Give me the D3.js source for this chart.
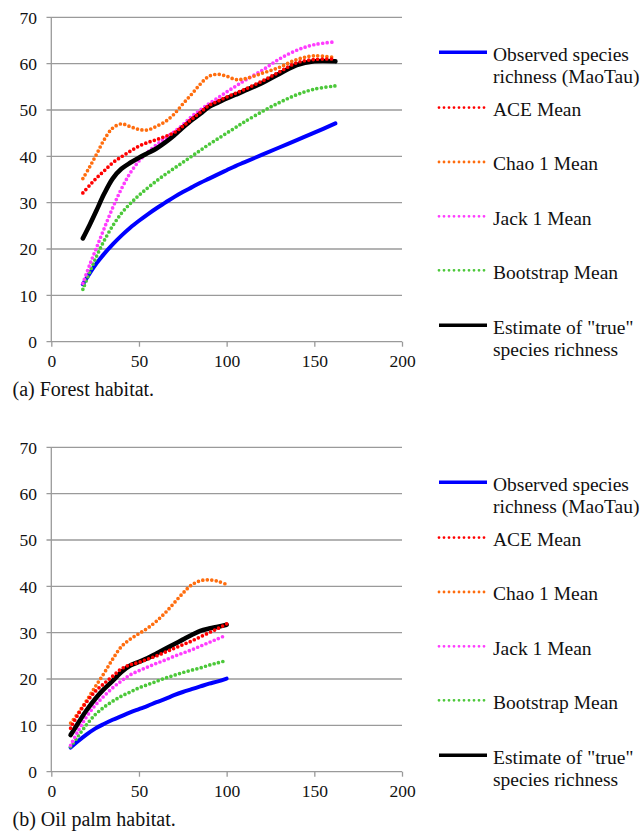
<!DOCTYPE html>
<html>
<head>
<meta charset="utf-8">
<script src="https://cdn.jsdelivr.net/npm/d3@7"></script>
<style>
  body { margin: 0; background: #fff; }
  svg text { font-family: "Liberation Serif", "DejaVu Serif", serif; fill: #111; }
</style>
</head>
<body>
<script>
// species accumulation curves
var forestX = [18, 22, 26, 30, 35, 40, 45, 50, 55, 60, 65, 70, 75, 80, 85, 90, 95, 100, 105, 110, 120, 130, 140, 150, 162];
var forestObserved  = [12.4, 14.8, 17.0, 18.9, 21.0, 22.9, 24.6, 26.1, 27.5, 28.8, 30.0, 31.2, 32.3, 33.3, 34.3, 35.2, 36.1, 37.0, 37.9, 38.7, 40.3, 41.9, 43.5, 45.1, 47.1];
var forestACE       = [32.1, 33.8, 35.4, 36.8, 38.6, 39.9, 41.1, 42.2, 43.0, 43.6, 44.3, 45.1, 46.5, 48.0, 49.5, 51.0, 51.9, 52.8, 53.6, 54.4, 56.2, 58.2, 60.2, 60.9, 61.0];
var forestChao      = [35.2, 37.8, 40.6, 43.5, 46.1, 47.0, 46.4, 45.8, 45.7, 46.5, 47.5, 49.1, 51.3, 53.4, 55.6, 57.3, 57.7, 57.3, 56.6, 56.7, 57.9, 59.2, 60.9, 61.7, 61.3];
var forestJack      = [12.6, 16.7, 20.5, 24.3, 28.9, 33.0, 36.4, 39.0, 40.9, 42.5, 43.9, 45.3, 46.8, 48.6, 50.0, 51.4, 52.6, 53.9, 55.1, 56.3, 58.5, 61.0, 62.9, 64.1, 64.7];
var forestBootstrap = [11.3, 15.1, 18.6, 21.7, 25.0, 27.7, 29.8, 31.6, 33.2, 34.7, 36.1, 37.4, 38.7, 40.0, 41.3, 42.6, 43.8, 45.0, 46.2, 47.4, 49.6, 51.6, 53.3, 54.5, 55.2];
var forestEstimate  = [22.3, 25.3, 28.5, 31.8, 35.2, 37.3, 38.6, 39.7, 40.7, 41.7, 43.0, 44.5, 46.2, 47.8, 49.2, 50.7, 51.6, 52.5, 53.3, 54.1, 55.8, 57.8, 59.7, 60.5, 60.5];

var palmX = [11, 15, 20, 25, 30, 35, 40, 45, 50, 55, 60, 65, 70, 75, 80, 85, 90, 95, 100];
var palmObserved  = [5.2, 6.5, 8.0, 9.3, 10.3, 11.2, 12.0, 12.8, 13.5, 14.2, 15.0, 15.7, 16.5, 17.2, 17.8, 18.4, 19.0, 19.5, 20.1];
var palmACE       = [9.4, 12.2, 15.0, 17.3, 19.0, 20.6, 22.2, 23.1, 23.6, 24.3, 25.0, 25.8, 26.6, 27.4, 28.2, 29.1, 30.0, 30.9, 31.9];
var palmChao      = [10.5, 12.5, 15.3, 18.3, 21.2, 24.3, 27.0, 28.6, 29.8, 31.0, 32.5, 34.3, 36.4, 38.5, 40.3, 41.2, 41.4, 41.1, 40.4];
var palmJack      = [5.7, 8.6, 11.8, 14.3, 16.3, 18.1, 19.6, 20.9, 21.8, 22.6, 23.4, 24.1, 24.9, 25.6, 26.3, 27.1, 27.9, 28.7, 29.5];
var palmBootstrap = [5.4, 7.5, 10.1, 12.3, 13.9, 15.2, 16.3, 17.2, 18.1, 18.8, 19.5, 20.2, 20.8, 21.4, 21.9, 22.4, 23.0, 23.5, 24.0];
var palmEstimate  = [7.9, 10.3, 13.2, 15.7, 17.8, 19.6, 21.5, 22.9, 23.7, 24.5, 25.5, 26.5, 27.5, 28.5, 29.5, 30.4, 30.9, 31.3, 31.7];

var xTicks = [0, 50, 100, 150, 200];
var yTicks = [0, 10, 20, 30, 40, 50, 60, 70];
var seriesNames = ['Observed species|richness (MaoTau)', 'ACE Mean', 'Chao 1 Mean', 'Jack 1 Mean', 'Bootstrap Mean', 'Estimate of "true"|species richness'];
var captions = ['(a) Forest habitat.', '(b) Oil palm habitat.'];

var styles = [
  { color: '#0000ff', dotted: false },
  { color: '#ff0000', dotted: true },
  { color: '#ff6d0e', dotted: true },
  { color: '#ff3cff', dotted: true },
  { color: '#4cc83a', dotted: true },
  { color: '#000000', dotted: false }
];

var width = 642, height = 831;
var svg = d3.select('body').append('svg')
  .attr('width', width)
  .attr('height', height);

function drawPanel(top, xs, series, caption) {
  var g = svg.append('g').attr('transform', 'translate(0,' + top + ')');

  var x = d3.scaleLinear().domain([0, 200]).range([51.3, 402]);
  var y = d3.scaleLinear().domain([0, 70]).range([324.4, 0]);

  // gridlines
  g.append('g')
    .selectAll('line')
    .data(yTicks)
    .enter().append('line')
    .attr('x1', 46.5)
    .attr('x2', 402)
    .attr('y1', function (d) { return y(d); })
    .attr('y2', function (d) { return y(d); })
    .attr('stroke', '#9a9a9a')
    .attr('stroke-width', 1.3);

  g.append('line')
    .attr('x1', x(0)).attr('x2', x(0))
    .attr('y1', y(70)).attr('y2', y(0))
    .attr('stroke', '#9a9a9a')
    .attr('stroke-width', 1.3);

  var xAxis = g.append('g')
    .attr('transform', 'translate(0,' + y(0) + ')')
    .call(d3.axisBottom(x).tickValues(xTicks).tickSize(5).tickPadding(8));
  xAxis.select('.domain').remove();
  xAxis.selectAll('line').attr('stroke', '#9a9a9a').attr('stroke-width', 1.3);
  xAxis.selectAll('text').attr('font-size', 17.5).attr('fill', '#111')
    .attr('font-family', '"Liberation Serif", serif');

  g.append('g')
    .selectAll('text')
    .data(yTicks)
    .enter().append('text')
    .attr('x', 37)
    .attr('y', function (d) { return y(d); })
    .attr('dy', '0.36em')
    .attr('text-anchor', 'end')
    .attr('font-size', 17.5)
    .text(function (d) { return d; });

  var line = d3.line()
    .x(function (d) { return x(d[0]); })
    .y(function (d) { return y(d[1]); })
    .curve(d3.curveCatmullRom.alpha(0.5));

  // draw order: estimate above most dotted ones, ACE peeking through on top
  var order = [0, 4, 3, 2, 5, 1];
  order.forEach(function (i) {
    var pts = xs.map(function (v, k) { return [v, series[i][k]]; });
    var st = styles[i];
    var p = g.append('path')
      .attr('d', line(pts))
      .attr('fill', 'none')
      .attr('stroke', st.color)
      .attr('stroke-linecap', 'round');
    if (st.dotted) {
      p.attr('stroke-width', 3.7).attr('stroke-dasharray', '0,4.5');
    } else {
      p.attr('stroke-width', i === 5 ? 4.6 : 4);
    }
  });

  // legend
  var legendY = [35, 90.3, 144.7, 199, 253, 308];
  seriesNames.forEach(function (name, i) {
    var ly = legendY[i];
    var st = styles[i];
    var l = g.append('line')
      .attr('x1', 439).attr('x2', 487)
      .attr('y1', ly).attr('y2', ly)
      .attr('stroke', st.color)
      .attr('stroke-linecap', st.dotted ? 'round' : 'butt');
    if (st.dotted) {
      l.attr('stroke-width', 2.8).attr('stroke-dasharray', '0,5');
    } else {
      l.attr('stroke-width', 3.6);
    }
    var parts = name.split('|');
    var t = g.append('text')
      .attr('x', 493)
      .attr('y', ly + 8.5)
      .attr('font-size', 19.5);
    parts.forEach(function (s, k) {
      t.append('tspan')
        .attr('x', 493)
        .attr('dy', k === 0 ? 0 : 22)
        .text(s);
    });
  });

  g.append('text')
    .attr('x', 12.5)
    .attr('y', 378.5)
    .attr('font-size', 20)
    .text(caption);
}

drawPanel(17.3, forestX,
  [forestObserved, forestACE, forestChao, forestJack, forestBootstrap, forestEstimate], captions[0]);
drawPanel(447.3, palmX,
  [palmObserved, palmACE, palmChao, palmJack, palmBootstrap, palmEstimate], captions[1]);
</script>
</body>
</html>
